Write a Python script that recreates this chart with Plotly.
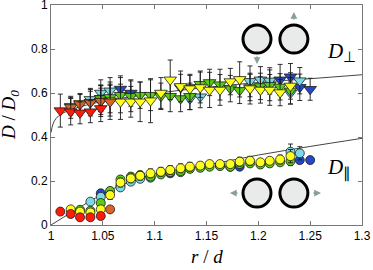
import plotly.graph_objects as go

# ---------------- data ----------------
# perpendicular diffusion (triangles)
red_perp_r = [1.009, 1.019, 1.028, 1.038, 1.048]
red_perp = [0.52, 0.515, 0.51, 0.515, 0.53]
red_perp_err = [0.075, 0.06, 0.05, 0.05, 0.06]

orange_perp_r = [1.019, 1.028, 1.038, 1.048, 1.057]
orange_perp = [0.535, 0.548, 0.556, 0.563, 0.56]
orange_perp_err = [0.05, 0.05, 0.06, 0.07, 0.08]

yellow_perp_r = [1.019, 1.028, 1.038, 1.048, 1.057, 1.067, 1.077, 1.086, 1.096, 1.106,
                 1.115, 1.125, 1.134, 1.144, 1.153, 1.163, 1.173, 1.182, 1.192, 1.202,
                 1.211, 1.221, 1.231]
yellow_perp = [0.54, 0.553, 0.558, 0.562, 0.565, 0.56, 0.56, 0.56, 0.565, 0.6,
               0.66, 0.63, 0.62, 0.625, 0.614, 0.614, 0.652, 0.662, 0.62, 0.614,
               0.614, 0.602, 0.632]
yellow_perp_err = [0.04, 0.04, 0.05, 0.06, 0.07, 0.08, 0.07, 0.09, 0.1, 0.07,
                   0.09, 0.07, 0.06, 0.07, 0.08, 0.07, 0.06, 0.08, 0.07, 0.06,
                   0.07, 0.06, 0.06]

green_perp_r = [1.048, 1.057, 1.067, 1.077, 1.086, 1.096, 1.106, 1.115, 1.125, 1.134,
                1.144, 1.153, 1.163, 1.173, 1.182, 1.192, 1.202, 1.211, 1.221, 1.231]
green_perp = [0.575, 0.58, 0.59, 0.585, 0.59, 0.59, 0.585, 0.585, 0.575, 0.585,
              0.64, 0.648, 0.638, 0.62, 0.612, 0.625, 0.63, 0.635, 0.628, 0.61]
green_perp_err = [0.06, 0.07, 0.08, 0.07, 0.06, 0.07, 0.06, 0.07, 0.06, 0.06,
                  0.06, 0.06, 0.07, 0.06, 0.06, 0.06, 0.06, 0.07, 0.06, 0.06]

cyan_perp_r = [1.038, 1.048, 1.057, 1.134, 1.144, 1.192, 1.202, 1.211, 1.231, 1.240]
cyan_perp = [0.571, 0.6, 0.61, 0.574, 0.583, 0.653, 0.66, 0.655, 0.6, 0.656]
cyan_perp_err = [0.05, 0.06, 0.06, 0.05, 0.05, 0.07, 0.06, 0.06, 0.05, 0.06]

blue_perp_r = [1.048, 1.067, 1.077, 1.125, 1.134, 1.221, 1.231, 1.240, 1.250]
blue_perp = [0.576, 0.618, 0.6, 0.625, 0.625, 0.66, 0.674, 0.626, 0.617]
blue_perp_err = [0.06, 0.06, 0.06, 0.06, 0.06, 0.07, 0.06, 0.06, 0.05]

# parallel diffusion (circles)
red_par_r = [1.009, 1.019, 1.028, 1.038, 1.048]
red_par = [0.061, 0.05, 0.035, 0.035, 0.041]
red_par_err = [0.006, 0.006, 0.006, 0.006, 0.006]

orange_par_r = [1.057]
orange_par = [0.071]
orange_par_err = [0.006]

yellow_par_r = [1.019, 1.028, 1.038, 1.048, 1.057, 1.067, 1.077, 1.086, 1.096, 1.106,
                1.115, 1.125, 1.134, 1.144, 1.153, 1.163, 1.173, 1.182, 1.192, 1.202,
                1.211, 1.221, 1.231]
yellow_par = [0.071, 0.061, 0.057, 0.071, 0.136, 0.193, 0.212, 0.224, 0.235, 0.242,
              0.25, 0.258, 0.265, 0.27, 0.277, 0.277, 0.277, 0.288, 0.292, 0.285,
              0.292, 0.298, 0.313]
yellow_par_err = [0.008, 0.008, 0.008, 0.01, 0.02, 0.02, 0.02, 0.02, 0.02, 0.02,
                  0.02, 0.02, 0.02, 0.015, 0.015, 0.015, 0.015, 0.02, 0.02, 0.015,
                  0.015, 0.02, 0.03]

green_par_r = [1.028, 1.038, 1.048, 1.057, 1.067, 1.077, 1.086, 1.096, 1.106, 1.115,
               1.125, 1.134, 1.144, 1.153, 1.163, 1.173, 1.182, 1.192, 1.202, 1.211,
               1.221, 1.231]
green_par = [0.069, 0.065, 0.1, 0.155, 0.207, 0.22, 0.227, 0.22, 0.23, 0.24,
             0.245, 0.255, 0.26, 0.265, 0.268, 0.265, 0.277, 0.28, 0.275, 0.28,
             0.285, 0.29]
green_par_err = [0.008, 0.008, 0.01, 0.015, 0.015, 0.015, 0.015, 0.015, 0.015, 0.015,
                 0.015, 0.015, 0.015, 0.015, 0.015, 0.015, 0.015, 0.015, 0.015, 0.015,
                 0.015, 0.02]

cyan_par_r = [1.038, 1.048, 1.067, 1.077, 1.086, 1.096, 1.125, 1.231, 1.240]
cyan_par = [0.106, 0.128, 0.171, 0.197, 0.21, 0.215, 0.24, 0.333, 0.326]
cyan_par_err = [0.008, 0.01, 0.012, 0.012, 0.012, 0.012, 0.012, 0.035, 0.03]

blue_par_r = [1.048, 1.067, 1.096, 1.115, 1.163, 1.173, 1.182, 1.240, 1.250]
blue_par = [0.144, 0.18, 0.218, 0.235, 0.27, 0.265, 0.265, 0.295, 0.295]
blue_par_err = [0.01, 0.012, 0.012, 0.012, 0.012, 0.012, 0.012, 0.015, 0.015]

# theory curves
perp_curve_r = [1.0, 1.002, 1.005, 1.01, 1.02, 1.03, 1.05, 1.1, 1.15, 1.2, 1.25, 1.3]
perp_curve = [0.42, 0.46, 0.485, 0.505, 0.525, 0.54, 0.562, 0.598, 0.625, 0.648, 0.665, 0.683]
par_curve_r = [1.0, 1.02, 1.04, 1.05, 1.06, 1.07, 1.08, 1.1, 1.15, 1.2, 1.25, 1.3]
par_curve = [0.0, 0.058, 0.115, 0.14, 0.165, 0.185, 0.2, 0.232, 0.272, 0.318, 0.357, 0.394]

x_ticks = [1, 1.05, 1.1, 1.15, 1.2, 1.25, 1.3]
y_ticks = [0, 0.2, 0.4, 0.6, 0.8, 1]

colors = {
    "red": "#ff1a0a",
    "orange": "#d9642a",
    "yellow": "#ffff1e",
    "green": "#5ccc12",
    "cyan": "#7adbe6",
    "blue": "#2348c8",
}

fig = go.Figure()

# curves
fig.add_trace(go.Scatter(x=perp_curve_r, y=perp_curve, mode="lines",
                         line=dict(color="#444444", width=1, shape="spline"),
                         hoverinfo="skip", showlegend=False))
fig.add_trace(go.Scatter(x=par_curve_r, y=par_curve, mode="lines",
                         line=dict(color="#444444", width=1, shape="spline"),
                         hoverinfo="skip", showlegend=False))

def add_series(r, d, e, color, symbol, size):
    fig.add_trace(go.Scatter(
        x=r, y=d, mode="markers",
        marker=dict(symbol=symbol, size=size, color=color,
                    line=dict(color="#1a1a1a", width=0.8)),
        error_y=dict(type="data", array=e, visible=True, color="#1a1a1a",
                     thickness=0.9, width=2.5),
        showlegend=False))

tri = "triangle-down"
add_series(blue_perp_r, blue_perp, blue_perp_err, colors["blue"], tri, 11)
add_series(cyan_perp_r, cyan_perp, cyan_perp_err, colors["cyan"], tri, 11)
add_series(green_perp_r, green_perp, green_perp_err, colors["green"], tri, 11)
add_series(yellow_perp_r, yellow_perp, yellow_perp_err, colors["yellow"], tri, 11)
add_series(orange_perp_r, orange_perp, orange_perp_err, colors["orange"], tri, 11)
add_series(red_perp_r, red_perp, red_perp_err, colors["red"], tri, 11)

add_series(blue_par_r, blue_par, blue_par_err, colors["blue"], "circle", 9)
add_series(cyan_par_r, cyan_par, cyan_par_err, colors["cyan"], "circle", 9)
add_series(green_par_r, green_par, green_par_err, colors["green"], "circle", 9)
add_series(orange_par_r, orange_par, orange_par_err, colors["orange"], "circle", 9)
add_series(yellow_par_r, yellow_par, yellow_par_err, colors["yellow"], "circle", 9)
add_series(red_par_r, red_par, red_par_err, colors["red"], "circle", 9)

# sphere icons
def sphere(xc, yc):
    fig.add_shape(type="circle", xref="x", yref="y",
                  xsizemode="pixel", ysizemode="pixel",
                  xanchor=xc, yanchor=yc, x0=-14, x1=14, y0=-14, y1=14,
                  fillcolor="#e9ebeb", line=dict(color="black", width=3))

sphere(1.1987, 0.845)
sphere(1.2343, 0.845)
sphere(1.1987, 0.145)
sphere(1.2343, 0.145)

arrow_col = "#8a9c9c"
def arrow(x, y, ax, ay):
    fig.add_annotation(x=x, y=y, xref="x", yref="y", ax=ax, ay=ay,
                       text="", showarrow=True, arrowhead=2, arrowsize=0.9,
                       arrowwidth=1.5, arrowcolor=arrow_col)

arrow(1.2343, 0.968, 0, 9)
arrow(1.1987, 0.732, 0, -9)
arrow(1.1726, 0.145, 9, 0)
arrow(1.2604, 0.145, -9, 0)

fig.add_annotation(x=1.264, y=0.786, xref="x", yref="y", xanchor="left",
                   yanchor="middle", showarrow=False,
                   text="<i>D</i><sub>⊥</sub>",
                   font=dict(family="Liberation Serif", size=21, color="black"))
fig.add_annotation(x=1.264, y=0.255, xref="x", yref="y", xanchor="left",
                   yanchor="middle", showarrow=False,
                   text="<i>D</i><sub>∥</sub>",
                   font=dict(family="Liberation Serif", size=21, color="black"))

# axis titles
fig.add_annotation(x=0, y=0.5, xref="paper", yref="paper", xshift=-41,
                   textangle=-90, showarrow=False, xanchor="center", yanchor="middle",
                   text="<i>D</i> / <i>D</i><sub><i>0</i></sub>",
                   font=dict(family="Liberation Serif", size=19, color="black"))
fig.add_annotation(x=1.15, y=0, xref="x", yref="paper", yshift=-31,
                   showarrow=False, xanchor="center", yanchor="middle",
                   text="<i>r</i> / <i>d</i>",
                   font=dict(family="Liberation Serif", size=19, color="black"))

axis_common = dict(showgrid=False, zeroline=False, showline=True, linecolor="#777777",
                   linewidth=1, mirror="ticks", ticks="inside", ticklen=4,
                   tickcolor="#777777", automargin=False, ticklabeloverflow="allow",
                   tickfont=dict(family="Liberation Sans", size=12, color="black"))

fig.update_xaxes(range=[1, 1.3], tickvals=x_ticks,
                 ticktext=[f"{v:g}" for v in x_ticks], **axis_common)
fig.update_yaxes(range=[0, 1], tickvals=y_ticks,
                 ticktext=[f"{v:g}" for v in y_ticks], **axis_common)

fig.update_layout(width=373, height=270,
                  margin=dict(l=51, r=11, t=5, b=45),
                  plot_bgcolor="white", paper_bgcolor="white",
                  showlegend=False)

fig.write_html("out.html", config={"displayModeBar": False},
               post_script="document.body.style.margin='0';document.body.style.overflow='hidden';")
